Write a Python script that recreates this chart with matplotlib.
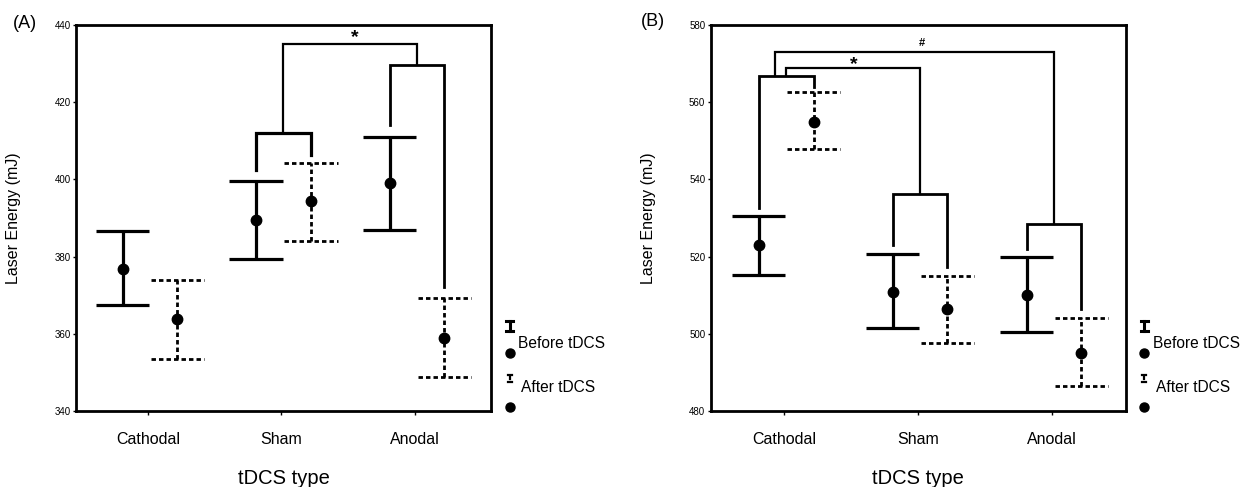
import matplotlib as mpl
mpl.use("agg")
import matplotlib.pyplot as plt

plt.rcParams['font.family'] = ['Liberation Sans', 'DejaVu Sans']

groups = ["Cathodal", "Sham", "Anodal"]

# panel A: laser energy (mJ)
a_before_mean = [376.8, 389.5, 399.0]
a_before_hi = [386.5, 399.5, 411.0]
a_before_lo = [367.5, 379.4, 386.9]
a_after_mean = [363.8, 394.3, 358.9]
a_after_hi = [373.9, 404.2, 369.2]
a_after_lo = [353.6, 383.9, 348.8]

# panel B
b_before_mean = [523.1, 510.7, 510.1]
b_before_hi = [530.6, 520.6, 519.8]
b_before_lo = [515.1, 501.5, 500.5]
b_after_mean = [554.8, 506.3, 495.1]
b_after_hi = [562.5, 514.9, 504.1]
b_after_lo = [547.8, 497.7, 486.5]

OFF_B, OFF_A = -0.19, 0.22
CAP = 0.2
dash = (0, (1.6, 1.1))


def draw_bars(ax, mean, hi, lo, off, solid):
    xs = [i + 1 + off for i in range(3)]
    ls = '-' if solid else dash
    lw = 2.3 if solid else 2.0
    for x, m, h, l in zip(xs, mean, hi, lo):
        ax.vlines(x, l, h, colors='black', linestyles=[ls], lw=lw)
        ax.hlines([l, h], x - CAP, x + CAP, colors='black', linestyles=[ls], lw=lw)
    ax.plot(xs, mean, 'o', color='black', ms=7.5, zorder=5)


def bracket(ax, x1, x2, y, y1, y2, lw=1.6):
    ax.plot([x1, x1, x2, x2], [y1, y, y, y2], color='black', lw=lw,
            solid_joinstyle='miter')


def legend(ax):
    t = ax.transAxes
    kw = dict(transform=t, clip_on=False, color='black')
    # before: solid I + dot
    ax.plot([1.045, 1.045], [0.208, 0.234], lw=2.2, **kw)
    ax.plot([1.037, 1.053], [0.234, 0.234], lw=2.2, **kw)
    ax.plot([1.037, 1.053], [0.208, 0.208], lw=2.2, **kw)
    ax.plot([1.045], [0.150], 'o', ms=6.5, **kw)
    ax.text(1.066, 0.176, "Before tDCS", transform=t, fontsize=11.2,
            va='center', ha='left')
    # after: dotted I + dot
    ax.plot([1.040, 1.050], [0.093, 0.093], lw=1.6, **kw)
    ax.plot([1.045, 1.045], [0.084, 0.089], lw=1.6, **kw)
    ax.plot([1.040, 1.050], [0.075, 0.075], lw=1.6, **kw)
    ax.plot([1.045], [0.010], 'o', ms=6.5, **kw)
    ax.text(1.073, 0.062, "After tDCS", transform=t, fontsize=11.2,
            va='center', ha='left')


def setup(ax, ylo, yhi, label, xlim):
    ax.set_xlim(*xlim)
    ax.set_ylim(ylo, yhi)
    ax.set_yticks(range(ylo, yhi + 1, 20))
    ax.set_xticks([1, 2, 3])
    ax.set_xticklabels(groups, fontsize=11.5)
    ax.tick_params(axis='y', labelsize=7, length=2, width=1, pad=2)
    ax.tick_params(axis='x', length=3, width=1, direction='out', pad=12)
    for s in ax.spines.values():
        s.set_linewidth(2)
    ax.set_ylabel("Laser Energy (mJ)", fontsize=11.5)
    ax.yaxis.set_label_coords(-0.133, 0.5)
    ax.set_xlabel("tDCS type", fontsize=14.5, labelpad=16)


fig = plt.figure(figsize=(12.48, 4.87), dpi=100)
axA = fig.add_axes([0.0609, 0.156, 0.3325, 0.793])
axB = fig.add_axes([0.5695, 0.156, 0.3325, 0.793])

# panel A
setup(axA, 340, 440, "(A)", (0.46, 3.57))
axA.text(-0.123, 1.003, "(A)", transform=axA.transAxes, fontsize=13,
         ha='center', va='center')
draw_bars(axA, a_before_mean, a_before_hi, a_before_lo, OFF_B, True)
draw_bars(axA, a_after_mean, a_after_hi, a_after_lo, OFF_A, False)
bracket(axA, 2 + OFF_B, 2 + OFF_A, 412.1, 402.3, 406.2, lw=2.3)
bracket(axA, 3 + OFF_B, 3 + OFF_A, 429.6, 414.1, 372.0, lw=2.0)
bracket(axA, 2 + (OFF_B + OFF_A) / 2, 3 + (OFF_B + OFF_A) / 2, 435.0, 412.1, 429.6)
axA.text(2.55, 436.6, "*", fontsize=14, ha='center', va='center', fontweight='bold')
legend(axA)

# panel B
setup(axB, 480, 580, "(B)", (0.453, 3.55))
axB.text(-0.139, 1.008, "(B)", transform=axB.transAxes, fontsize=13,
         ha='center', va='center')
draw_bars(axB, b_before_mean, b_before_hi, b_before_lo, OFF_B, True)
draw_bars(axB, b_after_mean, b_after_hi, b_after_lo, OFF_A, False)
bracket(axB, 1 + OFF_B, 1 + OFF_A, 566.8, 532.7, 563.8, lw=2.0)
bracket(axB, 2 + OFF_B, 2 + OFF_A, 536.2, 523.0, 517.4, lw=2.0)
bracket(axB, 3 + OFF_B, 3 + OFF_A, 528.4, 522.0, 506.3, lw=2.0)
cB = 1 + (OFF_B + OFF_A) / 2
bracket(axB, cB, 2 + (OFF_B + OFF_A) / 2, 568.8, 566.8, 536.2)
bracket(axB, cB - 0.08, 3 + (OFF_B + OFF_A) / 2, 572.9, 566.8, 528.4)
axB.text(1.52, 569.8, "*", fontsize=14, ha='center', va='center', fontweight='bold')
axB.text(2.03, 575.3, "#", fontsize=8, ha='center', va='center', fontweight='bold')
legend(axB)

fig.savefig("out.png", dpi=100)
